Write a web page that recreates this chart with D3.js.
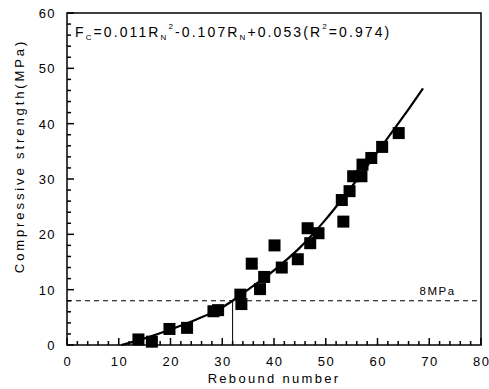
<!DOCTYPE html>
<html>
<head>
<meta charset="utf-8">
<script src="https://cdn.jsdelivr.net/npm/d3@7"></script>
<style>
  body { margin: 0; background: #fff; overflow: hidden; }
  svg { display: block; }
  text { font-family: "Liberation Sans", Arial, sans-serif; fill: #000; }
</style>
</head>
<body>
<svg width="489" height="389"></svg>
<script>
// measured points (rebound number, strength)
const rebound = [13.8, 16.4, 19.8, 23.2, 28.3, 29.2, 33.5, 33.7, 35.7, 37.3, 38.1, 40.1, 41.5, 44.6,
                 46.5, 47.0, 48.6, 53.1, 53.4, 54.6, 55.3, 56.9, 57.1, 58.8, 60.9, 64.1];
const strength = [1.0, 0.6, 2.9, 3.1, 6.1, 6.3, 9.1, 7.4, 14.7, 10.1, 12.3, 18.0, 14.0, 15.5,
                  21.1, 18.4, 20.2, 26.2, 22.3, 27.8, 30.5, 30.5, 32.6, 33.8, 35.8, 38.3];

// fitted curve
const fitX = [10.5, 15, 20, 25, 30, 32, 35, 40, 45, 50, 55, 60, 65, 68.8];
const fitY = [0, 1.2, 2.8, 4.6, 6.8, 8, 10, 13.5, 17.6, 22.7, 28.6, 34.9, 41.3, 46.4];

const xTicks = [0, 10, 20, 30, 40, 50, 60, 70, 80];
const yTicks = [0, 10, 20, 30, 40, 50, 60];
const limit = 8;      // 8MPa line
const limitX = 32;    // rebound number at 8MPa

const svg = d3.select('svg');
const margin = { top: 13, right: 8, bottom: 44, left: 67 };

const x = d3.scaleLinear().domain([0, 80]).range([0, 414]);
const y = d3.scaleLinear().domain([0, 60]).range([332, 0]);

const g = svg.append('g')
    .attr('transform', `translate(${margin.left},${margin.top})`);

// frame
g.append('rect')
    .attr('width', x(80)).attr('height', y(0))
    .attr('fill', 'none').attr('stroke', '#000').attr('stroke-width', 1.5);

// minor ticks every 2 units, pointing inward
const xMinor = d3.range(0, 81, 2);
const yMinor = d3.range(0, 61, 2);

g.append('g').selectAll('line')
    .data(xMinor)
    .join('line')
    .attr('x1', d => x(d)).attr('x2', d => x(d))
    .attr('y1', y(0)).attr('y2', d => y(0) - (d % 10 === 0 ? 7 : 4))
    .attr('stroke', '#000').attr('stroke-width', 1.5);

g.append('g').selectAll('line')
    .data(yMinor)
    .join('line')
    .attr('y1', d => y(d)).attr('y2', d => y(d))
    .attr('x1', 0).attr('x2', d => d % 10 === 0 ? 7 : 4)
    .attr('stroke', '#000').attr('stroke-width', 1.5);

// tick labels
g.append('g').selectAll('text')
    .data(xTicks)
    .join('text')
    .attr('x', d => x(d) + 0.7).attr('y', y(0) + 21)
    .attr('text-anchor', 'middle')
    .attr('font-size', 13).attr('letter-spacing', 1.4)
    .text(d => d);

g.append('g').selectAll('text')
    .data(yTicks)
    .join('text')
    .attr('x', -11).attr('y', d => y(d) + 5)
    .attr('text-anchor', 'end')
    .attr('font-size', 13).attr('letter-spacing', 1.4)
    .text(d => d);

// axis titles
svg.append('text')
    .attr('x', 274).attr('y', 383)
    .attr('text-anchor', 'middle')
    .attr('font-size', 13).attr('letter-spacing', 2.3)
    .text('Rebound number');

svg.append('text')
    .attr('transform', 'translate(24,156) rotate(-90)')
    .attr('text-anchor', 'middle')
    .attr('font-size', 13).attr('letter-spacing', 2.9)
    .text('Compressive strength(MPa)');

// 8MPa dashed line
g.append('line')
    .attr('x1', 0).attr('x2', x(80))
    .attr('y1', y(limit)).attr('y2', y(limit))
    .attr('stroke', '#000').attr('stroke-width', 1.2)
    .attr('stroke-dasharray', '5,4');

g.append('text')
    .attr('x', x(71.6)).attr('y', y(limit) - 6)
    .attr('text-anchor', 'middle')
    .attr('font-size', 11.5).attr('letter-spacing', 1.5)
    .text('8MPa');

// vertical line down to the axis at 8MPa
g.append('line')
    .attr('x1', x(limitX)).attr('x2', x(limitX))
    .attr('y1', y(limit)).attr('y2', y(0))
    .attr('stroke', '#000').attr('stroke-width', 1);

// points as filled squares
const pts = rebound.map((r, i) => ({ r: r, s: strength[i] }));
const sz = 12;
g.append('g').selectAll('rect')
    .data(pts)
    .join('rect')
    .attr('x', d => x(d.r) - sz / 2)
    .attr('y', d => y(d.s) - sz / 2)
    .attr('width', sz).attr('height', sz)
    .attr('fill', '#000');

// fit curve
const fit = fitX.map((v, i) => [v, fitY[i]]);
g.append('path')
    .datum(fit)
    .attr('fill', 'none')
    .attr('stroke', '#000').attr('stroke-width', 2.2)
    .attr('d', d3.line().x(d => x(d[0])).y(d => y(d[1])).curve(d3.curveMonotoneX));

// equation
const eq = svg.append('text')
    .attr('x', 75).attr('y', 37)
    .attr('font-size', 14).attr('letter-spacing', 2.1);
eq.append('tspan').text('F');
eq.append('tspan').attr('font-size', 8).attr('dy', 3).text('C');
eq.append('tspan').attr('dy', -3).text('=0.011R');
eq.append('tspan').attr('font-size', 8).attr('dy', 3).text('N');
eq.append('tspan').attr('font-size', 8).attr('dy', -11).text('2');
eq.append('tspan').attr('dy', 8).text('-0.107R');
eq.append('tspan').attr('font-size', 8).attr('dy', 3).text('N');
eq.append('tspan').attr('dy', -3).text('+0.053(R');
eq.append('tspan').attr('font-size', 8).attr('dy', -8).text('2');
eq.append('tspan').attr('dy', 8).text('=0.974)');
</script>
</body>
</html>
